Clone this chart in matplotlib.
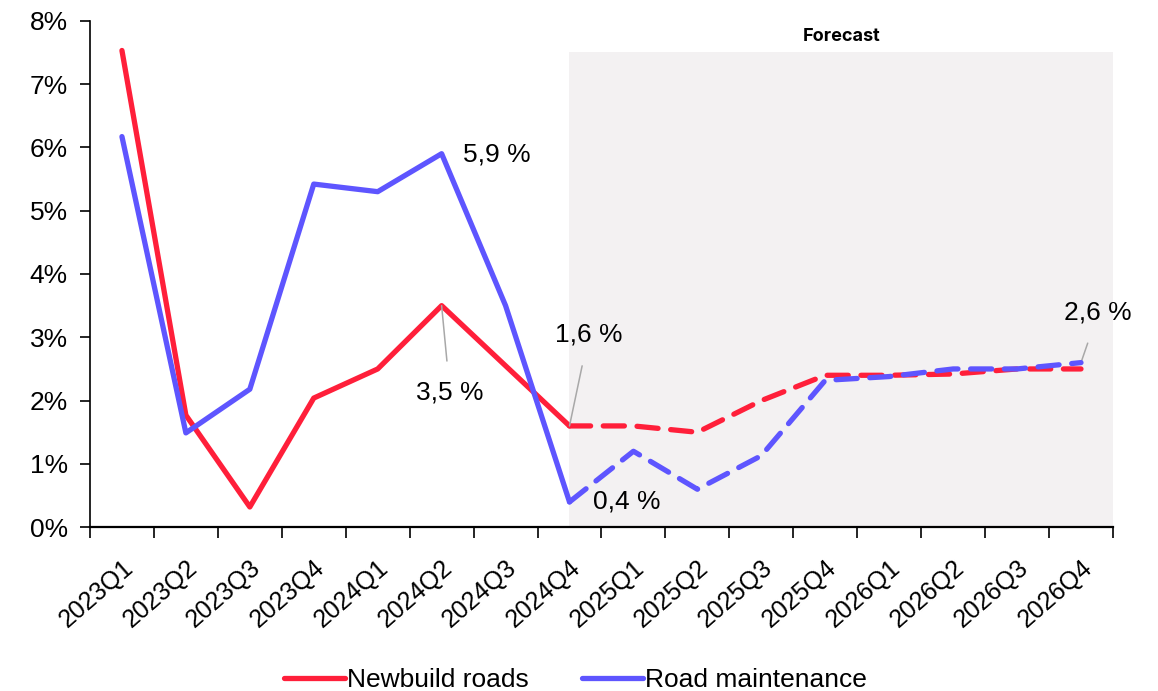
import matplotlib.pyplot as plt
from matplotlib.ticker import FuncFormatter

plt.rcParams['font.family'] = ['Liberation Sans', 'DejaVu Sans']

# data
quarters = ["2023Q1", "2023Q2", "2023Q3", "2023Q4", "2024Q1", "2024Q2", "2024Q3", "2024Q4",
            "2025Q1", "2025Q2", "2025Q3", "2025Q4", "2026Q1", "2026Q2", "2026Q3", "2026Q4"]
newbuild = [7.53, 1.77, 0.32, 2.04, 2.5, 3.5, 2.55, 1.6,
            1.6, 1.5, 2.0, 2.4, 2.4, 2.42, 2.5, 2.5]
maintenance = [6.17, 1.49, 2.18, 5.42, 5.3, 5.9, 3.5, 0.4,
               1.2, 0.6, 1.13, 2.32, 2.38, 2.5, 2.5, 2.6]
forecast_start = 7  # index of 2024Q4

red = "#FF1F3A"
blue = "#5E55FF"

fig = plt.figure(figsize=(11.58, 6.91), dpi=100)
ax = fig.add_axes([0.0777, 0.237, 0.8834, 0.733])

x = list(range(len(quarters)))
n = len(quarters)

# shaded forecast area
ax.fill_between([forecast_start, n - 0.5], 0, 7.5, color="#F3F1F2", zorder=0, linewidth=0)
ax.text((forecast_start + n - 0.5) / 2, 7.62, "Forecast", ha="center", va="bottom",
        fontsize=13, fontweight="bold", family=["Inter", "DejaVu Sans"])

lw = 3.8
# actuals
ax.plot(x[:forecast_start + 1], newbuild[:forecast_start + 1], color=red, lw=lw,
        solid_capstyle="round", label="Newbuild roads", zorder=3)
ax.plot(x[:forecast_start + 1], maintenance[:forecast_start + 1], color=blue, lw=lw,
        solid_capstyle="round", label="Road maintenance", zorder=4)
# forecasts
ax.plot(x[forecast_start:], newbuild[forecast_start:], color=red, lw=lw,
        dashes=(4, 2.4), dash_capstyle="round", zorder=3)
ax.plot(x[forecast_start:], maintenance[forecast_start:], color=blue, lw=lw,
        dashes=(4, 2.4), dash_capstyle="round", zorder=4)

# annotations
fs = 19
gray = "#A8A8A8"
ax.annotate("5,9 %", xy=(5, maintenance[5]), xytext=(5.33, 5.88), fontsize=fs,
            ha="left", va="center")
ax.annotate("3,5 %", xy=(5, newbuild[5]), xytext=(5.13, 2.13), fontsize=fs,
            ha="center", va="center",
            arrowprops=dict(arrowstyle="-", color=gray, lw=1.1, shrinkA=12, shrinkB=0))
ax.annotate("1,6 %", xy=(7, newbuild[7]), xytext=(7.3, 3.04), fontsize=fs,
            ha="center", va="center",
            arrowprops=dict(arrowstyle="-", color=gray, lw=1.1, shrinkA=12, shrinkB=0))
ax.annotate("0,4 %", xy=(7, maintenance[7]), xytext=(7.9, 0.4), fontsize=fs,
            ha="center", va="center")
ax.annotate("2,6 %", xy=(15, maintenance[15]), xytext=(15.27, 3.39), fontsize=fs,
            ha="center", va="center",
            arrowprops=dict(arrowstyle="-", color=gray, lw=1.1, shrinkA=12, shrinkB=0))

# axes styling
ax.set_xlim(-0.5, n - 0.5)
ax.set_ylim(0, 8)
for s in ["top", "right"]:
    ax.spines[s].set_visible(False)
ax.spines["left"].set_linewidth(1.2)
ax.spines["bottom"].set_linewidth(1.6)

ax.set_yticks(range(0, 9))
ax.yaxis.set_major_formatter(FuncFormatter(lambda v, p: f"{int(v)}%"))
ax.tick_params(axis="y", labelsize=19, length=7, width=1.2, direction="out", pad=9)

ax.set_xticks(x)
ax.set_xticklabels(quarters, rotation=41, ha="right", rotation_mode="anchor")
ax.set_xticks([i - 0.5 for i in range(n + 1)], minor=True)
ax.tick_params(axis="x", which="major", length=0, labelsize=18, pad=20)
ax.tick_params(axis="x", which="minor", length=8, width=1.2, direction="out")

fig.legend(loc="lower center", bbox_to_anchor=(0.497, -0.036), ncol=2, frameon=False,
           fontsize=19, handlelength=2.3, handletextpad=0.1, columnspacing=2.0)

fig.savefig("out.png", dpi=100)
